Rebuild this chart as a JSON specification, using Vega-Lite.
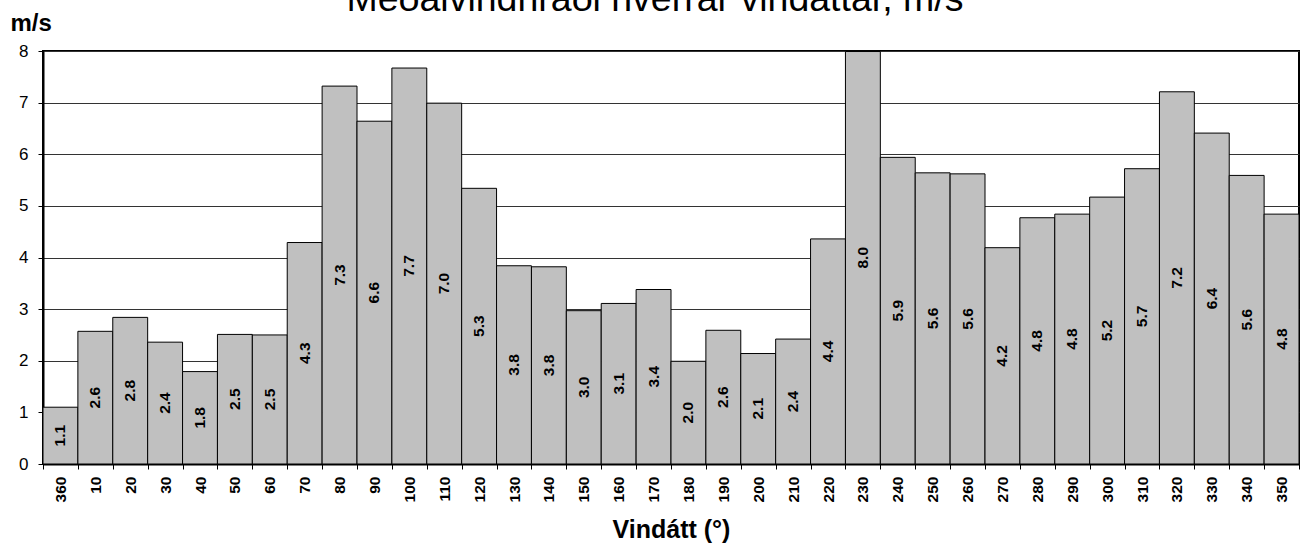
{
  "$schema": "https://vega.github.io/schema/vega-lite/v6.json",
  "width": 1256,
  "height": 413,
  "autosize": {"type": "none"},
  "padding": {"left": 43, "top": 51, "right": 8, "bottom": 81},
  "background": "white",
  "config": {
    "view": {"stroke": "black", "strokeWidth": 2},
    "font": "Liberation Sans"
  },
  "title": {
    "text": "Meðalvindhraði hverrar vindáttar, m/s",
    "fontSize": 37.5,
    "fontWeight": "normal",
    "font": "Liberation Sans",
    "color": "black",
    "anchor": "middle",
    "frame": "group",
    "baseline": "alphabetic",
    "offset": -37,
    "dx": -16
  },
  "data": {
    "values": [
      {"dir": 360, "v": 1.10},
      {"dir": 10, "v": 2.57},
      {"dir": 20, "v": 2.84},
      {"dir": 30, "v": 2.36},
      {"dir": 40, "v": 1.79},
      {"dir": 50, "v": 2.51},
      {"dir": 60, "v": 2.50},
      {"dir": 70, "v": 4.29},
      {"dir": 80, "v": 7.32},
      {"dir": 90, "v": 6.64},
      {"dir": 100, "v": 7.67},
      {"dir": 110, "v": 6.99},
      {"dir": 120, "v": 5.34},
      {"dir": 130, "v": 3.84},
      {"dir": 140, "v": 3.82},
      {"dir": 150, "v": 2.97},
      {"dir": 160, "v": 3.11},
      {"dir": 170, "v": 3.38},
      {"dir": 180, "v": 1.99},
      {"dir": 190, "v": 2.59},
      {"dir": 200, "v": 2.14},
      {"dir": 210, "v": 2.42},
      {"dir": 220, "v": 4.36},
      {"dir": 230, "v": 7.99},
      {"dir": 240, "v": 5.94},
      {"dir": 250, "v": 5.64},
      {"dir": 260, "v": 5.62},
      {"dir": 270, "v": 4.19},
      {"dir": 280, "v": 4.77},
      {"dir": 290, "v": 4.84},
      {"dir": 300, "v": 5.17},
      {"dir": 310, "v": 5.72},
      {"dir": 320, "v": 7.21},
      {"dir": 330, "v": 6.41},
      {"dir": 340, "v": 5.59},
      {"dir": 350, "v": 4.84}
    ]
  },
  "layer": [
    {
      "mark": {"type": "bar", "fill": "#C0C0C0", "stroke": "black", "strokeWidth": 1},
      "encoding": {
        "x": {
          "field": "dir",
          "type": "ordinal",
          "sort": null,
          "scale": {"paddingInner": 0, "paddingOuter": 0},
          "axis": {
            "title": "Vindátt (°)",
            "titleFontSize": 25,
            "titleFontWeight": "bold",
            "titleColor": "black",
            "titleX": 628,
            "titleY": 73,
            "titleBaseline": "alphabetic",
            "titleAlign": "center",
            "labelAngle": -90,
            "labelFontSize": 15.5,
            "labelFontWeight": "bold",
            "labelColor": "black",
            "labelPadding": 7,
            "tickBand": "extent",
            "tickSize": 5,
            "tickColor": "black",
            "domainColor": "black",
            "domainWidth": 2,
            "grid": false
          }
        },
        "y": {
          "field": "v",
          "type": "quantitative",
          "scale": {"domain": [0, 8], "nice": false},
          "axis": {
            "values": [0, 1, 2, 3, 4, 5, 6, 7, 8],
            "grid": true,
            "gridColor": "#333333",
            "gridWidth": 1,
            "domainColor": "black",
            "domainWidth": 2,
            "tickColor": "black",
            "tickSize": 5,
            "labelFontSize": 17,
            "labelColor": "black",
            "labelPadding": 10,
            "title": "m/s",
            "titleFontSize": 24,
            "titleFontWeight": "bold",
            "titleColor": "black",
            "titleAngle": 0,
            "titleX": -33,
            "titleY": -21,
            "titleAlign": "left",
            "titleBaseline": "alphabetic"
          }
        }
      }
    },
    {
      "mark": {"type": "text", "angle": 270, "fontWeight": "bold", "fontSize": 15.5, "baseline": "middle", "align": "center", "color": "black"},
      "encoding": {
        "x": {"field": "dir", "type": "ordinal", "sort": null},
        "y": {"field": "v", "type": "quantitative", "scale": {"domain": [0, 16], "nice": false}, "axis": null},
        "text": {"field": "v", "type": "quantitative", "format": ".1f"}
      }
    }
  ],
  "resolve": {"scale": {"y": "independent"}}
}
